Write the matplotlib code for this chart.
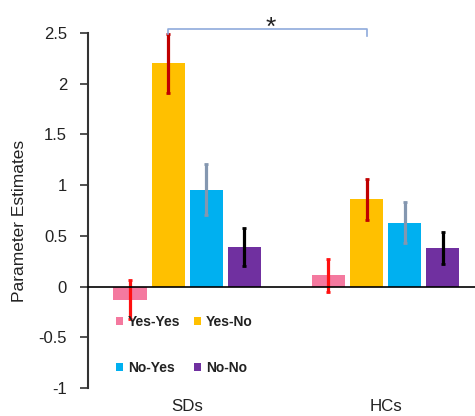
import numpy as np
import matplotlib.pyplot as plt
from matplotlib.transforms import blended_transform_factory

#############################################################################################
# data
groups = ['SDs', 'HCs']
conditions = ['Yes-Yes', 'Yes-No', 'No-Yes', 'No-No']
values = {
    'Yes-Yes': [-0.13, 0.11],
    'Yes-No': [2.20, 0.86],
    'No-Yes': [0.955, 0.63],
    'No-No': [0.39, 0.38],
}
errors = {
    'Yes-Yes': [0.19, 0.165],
    'Yes-No': [0.29, 0.20],
    'No-Yes': [0.25, 0.20],
    'No-No': [0.19, 0.16],
}
bar_colors = {'Yes-Yes': '#f4799f', 'Yes-No': '#ffc000', 'No-Yes': '#00b0f0', 'No-No': '#7030a0'}
err_colors = {'Yes-Yes': '#ff1010', 'Yes-No': '#c00000', 'No-Yes': '#8497b0', 'No-No': '#000000'}
yticks = [-1, -0.5, 0, 0.5, 1, 1.5, 2, 2.5]
ytick_labels = ['-1', '-0.5', '0', '0.5', '1', '1.5', '2', '2.5']

#############################################################################################
plt.rcParams['font.family'] = ['Liberation Sans', 'DejaVu Sans']

fig = plt.figure(figsize=(4.75, 4.16), dpi=100)
ax = fig.add_axes([0.185, 0.0673, 0.815, 0.8534])

x = np.arange(len(groups))
step = 0.192
width = 0.167
handles = {}
for i, cond in enumerate(conditions):
    pos = x + (i - 1.5) * step
    b = ax.bar(pos, values[cond], width, color=bar_colors[cond], yerr=errors[cond],
               error_kw=dict(ecolor=err_colors[cond], elinewidth=2.3, capsize=1.5, capthick=2),
               label=cond, zorder=2)
    handles[cond] = b

# significance bracket between the Yes-No bars
x_left = x[0] + (1 - 1.5) * step
x_right = x[1] + (1 - 1.5) * step
ax.plot([x_left, x_left, x_right, x_right], [2.49, 2.54, 2.54, 2.47],
        color='#8faadc', lw=1.2, clip_on=False, zorder=3)
ax.text(0.42, 2.55, '*', fontsize=19, ha='center', va='center', color='#222222')

ax.set_xlim(-0.5, 1.45)
ax.set_ylim(-1, 2.5)
ax.set_yticks(yticks)
ax.set_yticklabels(ytick_labels, fontsize=12, color='#222222')
ax.tick_params(axis='y', direction='out', length=6, width=1.2, color='#333333', pad=9)
ax.set_xticks([])
ax.spines['top'].set_visible(False)
ax.spines['right'].set_visible(False)
ax.spines['left'].set_color('#333333')
ax.spines['left'].set_linewidth(1.5)
ax.spines['bottom'].set_position(('data', 0))
ax.spines['bottom'].set_linewidth(1.2)
ax.set_ylabel('Parameter Estimates', fontsize=12.5, color='#222222')
ax.yaxis.set_label_coords(-0.158, 0.47)

# group labels at the bottom
trans = blended_transform_factory(ax.transData, ax.transAxes)
for xi, g in zip(x, groups):
    ax.text(xi, -0.053, g, transform=trans, ha='center', va='center', fontsize=12.2, color='#222222')

order = ['Yes-Yes', 'No-Yes', 'Yes-No', 'No-No']
leg = ax.legend([handles[c] for c in order], order, ncol=2, loc='upper left',
                bbox_to_anchor=(0.072, 0.205), frameon=False, handlelength=0.5,
                handleheight=0.5, handletextpad=0.36, columnspacing=1.0,
                labelspacing=2.3, borderpad=0, borderaxespad=0,
                prop=dict(weight='bold', size=10))
for t in leg.get_texts():
    t.set_color('#222222')

fig.savefig('out.png', dpi=100)
